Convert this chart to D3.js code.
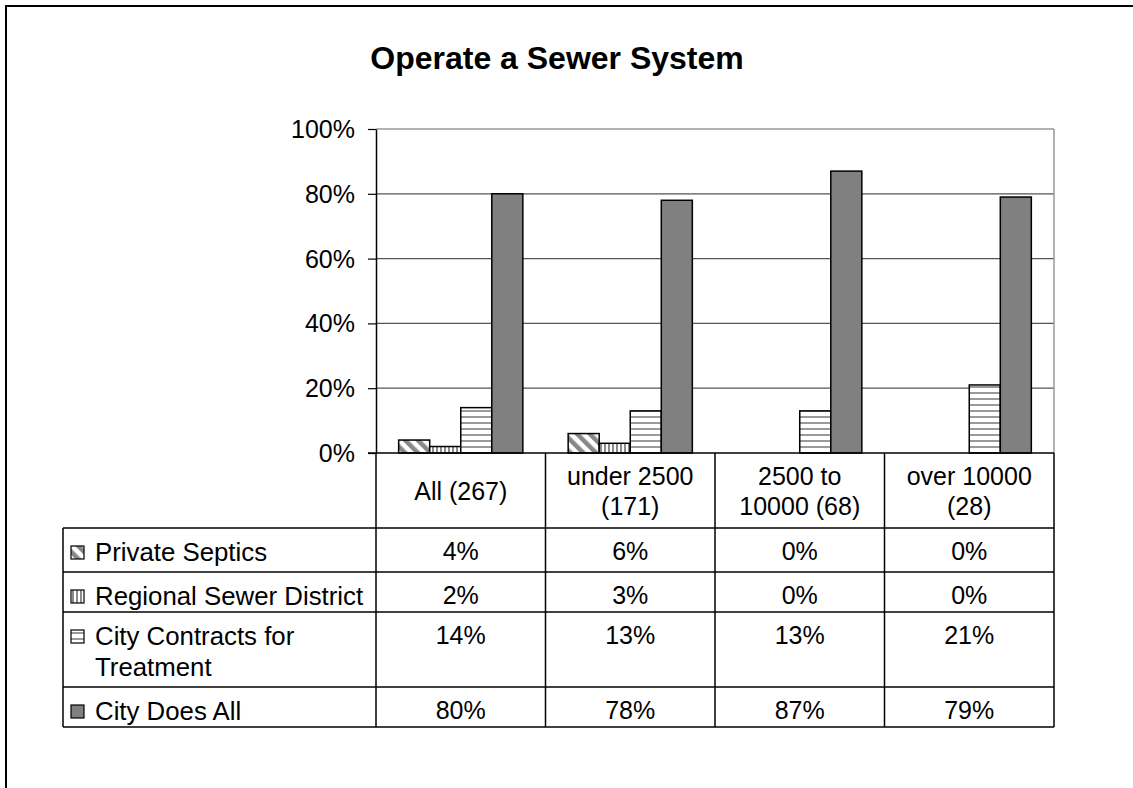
<!DOCTYPE html>
<html>
<head>
<meta charset="utf-8">
<script src="https://cdn.jsdelivr.net/npm/d3@7/dist/d3.min.js"></script>
<style>
  html, body { margin: 0; padding: 0; background: #fff; }
  svg { display: block; font-family: "Liberation Sans", Arial, sans-serif; }
</style>
</head>
<body>
<svg id="chart" width="1133" height="788"></svg>
<script>
// ---------- data ----------
const title = "Operate a Sewer System";
const categories = ["All (267)", "under 2500 (171)", "2500 to 10000 (68)", "over 10000 (28)"];
const categoryLines = [["All (267)"], ["under 2500", "(171)"], ["2500 to", "10000 (68)"], ["over 10000", "(28)"]];
const seriesNames = ["Private Septics", "Regional Sewer District", "City Contracts for Treatment", "City Does All"];
const seriesLines = [["Private Septics"], ["Regional Sewer District"], ["City Contracts for", "Treatment"], ["City Does All"]];
const privateSeptics = [4, 6, 0, 0];
const regionalSewer = [2, 3, 0, 0];
const cityContracts = [14, 13, 13, 21];
const cityDoesAll = [80, 78, 87, 79];
const yTicks = [0, 20, 40, 60, 80, 100];

const seriesValues = [privateSeptics, regionalSewer, cityContracts, cityDoesAll];

// ---------- layout ----------
const plotL = 376, plotR = 1054, plotT = 129, plotB = 453;
const tableL = 63;
const headerBottom = 528;
const rowHeights = [44, 40, 75, 40];
const fontSize = 25;
const legendFont = 25.8;
const lineGap = 31;

const svg = d3.select("#chart");

// patterns
const defs = svg.append("defs");
const pDiag = defs.append("pattern").attr("id", "pDiag").attr("patternUnits", "userSpaceOnUse")
  .attr("width", 9).attr("height", 9).attr("patternTransform", "rotate(-45)");
pDiag.append("rect").attr("width", 9).attr("height", 9).attr("fill", "#fff");
pDiag.append("rect").attr("x", 0).attr("width", 4.5).attr("height", 9).attr("fill", "#888");

const pVert = defs.append("pattern").attr("id", "pVert").attr("patternUnits", "userSpaceOnUse")
  .attr("width", 4).attr("height", 4);
pVert.append("rect").attr("width", 4).attr("height", 4).attr("fill", "#fff");
pVert.append("rect").attr("x", 0).attr("width", 2).attr("height", 4).attr("fill", "#8a8a8a");

const pHorz = defs.append("pattern").attr("id", "pHorz").attr("patternUnits", "userSpaceOnUse")
  .attr("width", 6).attr("height", 6);
pHorz.append("rect").attr("width", 6).attr("height", 6).attr("fill", "#fff");
pHorz.append("rect").attr("y", 2).attr("width", 6).attr("height", 2).attr("fill", "#9a9a9a");

const fills = ["url(#pDiag)", "url(#pVert)", "url(#pHorz)", "#808080"];

// outer border (right/bottom cut off)
svg.append("rect").attr("x", 6).attr("y", 6).attr("width", 1200).attr("height", 900)
  .attr("fill", "none").attr("stroke", "#000").attr("stroke-width", 2);

// title
svg.append("text").attr("x", 557).attr("y", 69).attr("text-anchor", "middle")
  .attr("font-size", 32).attr("font-weight", "bold").text(title);

// scales
const x0 = d3.scaleBand().domain(categories).range([plotL, plotR]).paddingInner(0).paddingOuter(0);
const x1 = d3.scaleBand().domain(seriesNames).range([0, x0.bandwidth()]).paddingInner(0).paddingOuter(0.73);
const y = d3.scaleLinear().domain([0, 100]).range([plotB, plotT]);

// gridlines
const g = svg.append("g");
g.selectAll("line.grid").data(yTicks.filter(t => t > 0 && t < 100)).join("line")
  .attr("x1", plotL).attr("x2", plotR).attr("y1", d => y(d)).attr("y2", d => y(d))
  .attr("stroke", "#555").attr("stroke-width", 1.2);
// plot border top & right
g.append("line").attr("x1", plotL).attr("x2", plotR).attr("y1", y(100)).attr("y2", y(100))
  .attr("stroke", "#999").attr("stroke-width", 1.5);
g.append("line").attr("x1", plotR).attr("x2", plotR).attr("y1", y(100)).attr("y2", plotB)
  .attr("stroke", "#999").attr("stroke-width", 1.5);

// bars
seriesNames.forEach((s, si) => {
  g.selectAll(null).data(seriesValues[si].map((v, ci) => ({ v, c: categories[ci] })).filter(d => d.v > 0))
    .join("rect")
    .attr("x", d => x0(d.c) + x1(s))
    .attr("y", d => y(d.v))
    .attr("width", x1.bandwidth())
    .attr("height", d => y(0) - y(d.v))
    .attr("fill", fills[si])
    .attr("stroke", "#000").attr("stroke-width", 1.5);
});

// y axis
const yAxis = d3.axisLeft(y).tickValues(yTicks).tickFormat(d => d + "%").tickSize(8).tickSizeOuter(0).tickPadding(13);
const ya = svg.append("g").attr("transform", `translate(${plotL},0)`).call(yAxis);
ya.select(".domain").attr("stroke", "#000").attr("stroke-width", 1.5);
ya.selectAll(".tick line").attr("stroke", "#000").attr("stroke-width", 1.2);
ya.selectAll(".tick text").attr("font-size", fontSize).attr("font-family", "Liberation Sans, Arial, sans-serif")
  .attr("fill", "#000").attr("dy", "0.34em");

// ---------- data table ----------
const t = svg.append("g");
const lineStyle = sel => sel.attr("stroke", "#000").attr("stroke-width", 1.5);

lineStyle(t.append("line").attr("x1", plotL - 8).attr("x2", plotR).attr("y1", plotB).attr("y2", plotB));

const rowTops = [];
let acc = headerBottom;
rowHeights.forEach(h => { rowTops.push(acc); acc += h; });
const tableBottom = acc;

[...rowTops, tableBottom].forEach(yy => {
  lineStyle(t.append("line").attr("x1", tableL).attr("x2", plotR).attr("y1", yy).attr("y2", yy));
});
lineStyle(t.append("line").attr("x1", tableL).attr("x2", tableL).attr("y1", headerBottom).attr("y2", tableBottom));
const colEdges = categories.map(c => x0(c)).concat([plotR]);
colEdges.forEach(xx => {
  lineStyle(t.append("line").attr("x1", xx).attr("x2", xx).attr("y1", plotB).attr("y2", tableBottom));
});

// header labels
categories.forEach((c, ci) => {
  const lines = categoryLines[ci];
  const cx = x0(c) + x0.bandwidth() / 2;
  const cy = (plotB + headerBottom) / 2;
  const first = cy + 9 - (lines.length - 1) * 30 / 2;
  lines.forEach((ln, li) => {
    t.append("text").attr("x", cx).attr("y", first + li * 30).attr("text-anchor", "middle")
      .attr("font-size", fontSize).text(ln);
  });
});

// series rows
seriesNames.forEach((s, si) => {
  const top = rowTops[si];
  const base = top + 33;
  t.append("rect").attr("x", 71).attr("y", base - 15).attr("width", 13).attr("height", 13)
    .attr("fill", fills[si]).attr("stroke", "#000").attr("stroke-width", 1.2);
  seriesLines[si].forEach((ln, li) => {
    t.append("text").attr("x", 95).attr("y", base + li * lineGap).attr("font-size", legendFont).text(ln);
  });
  seriesValues[si].forEach((v, ci) => {
    t.append("text").attr("x", x0(categories[ci]) + x0.bandwidth() / 2).attr("y", base - 1)
      .attr("text-anchor", "middle").attr("font-size", fontSize).text(v + "%");
  });
});
</script>
</body>
</html>
